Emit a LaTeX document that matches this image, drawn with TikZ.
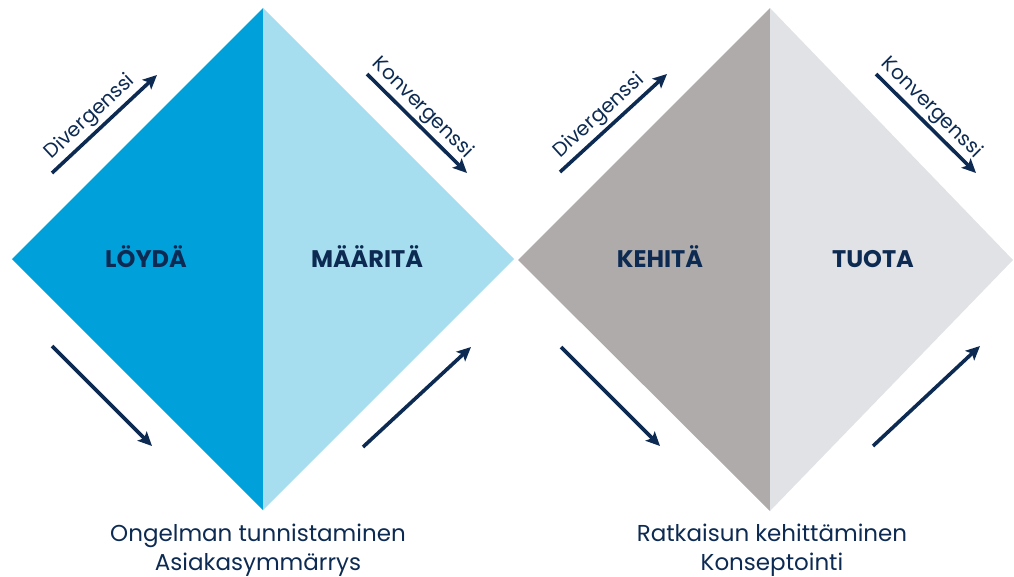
\documentclass[tikz,border=0pt]{standalone}
\usepackage{fontspec}
\setmainfont{Poppins}
\usetikzlibrary{arrows.meta}
\definecolor{navy}{HTML}{0D2B52}
\definecolor{blueA}{HTML}{00A1DB}
\definecolor{blueB}{HTML}{A6DEEF}
\definecolor{greyA}{HTML}{AEABAA}
\definecolor{greyB}{HTML}{E1E2E6}
\begin{document}
\begin{tikzpicture}[x=1pt,y=-1pt,
  flow/.style={draw=navy, line width=3.6pt, -{Stealth[length=14pt,width=13pt,inset=3pt]}},
  phase/.style={font=\fontsize{24}{28}\selectfont\bfseries, text=navy, anchor=base},
  tag/.style={font=\fontsize{20}{24}\selectfont, text=navy, sloped, above, inner sep=2.5pt},
  caption/.style={font=\fontsize{23}{29}\selectfont, text=navy, align=center, anchor=base}]
\useasboundingbox (0,0) rectangle (1014,576);

% first diamond: discover / define
\fill[blueA] (12,259) -- (263,8) -- (263,510) -- cycle;
\fill[blueB] (263,8) -- (514,259) -- (263,510) -- cycle;
% second diamond: develop / deliver
\fill[greyA] (518,260) -- (770,8) -- (770,511) -- cycle;
\fill[greyB] (770,8) -- (1013,260) -- (770,511) -- cycle;

% phase names
\node[phase] (loyda) at (146,267) {LÖYDÄ};
\node[phase] (maarita) at (367,267) {MÄÄRITÄ};
\node[phase] (kehita) at (660,267) {KEHITÄ};
\node[phase] (tuota) at (873,267) {TUOTA};

% arrow end points
\coordinate (d1s) at (52,173);  \coordinate (d1e) at (157,75);
\coordinate (k1s) at (367,74);  \coordinate (k1e) at (467,173);
\coordinate (b1s) at (52,346);  \coordinate (b1e) at (152,446);
\coordinate (c1s) at (363,447); \coordinate (c1e) at (471,347);
\coordinate (d2s) at (560,172); \coordinate (d2e) at (667,74);
\coordinate (k2s) at (876,74);  \coordinate (k2e) at (976,173);
\coordinate (b2s) at (561,347); \coordinate (b2e) at (660,446);
\coordinate (c2s) at (873,446); \coordinate (c2e) at (980,346);

% divergence / convergence arrows
\draw[flow] (d1s) -- node[tag, pos=0.46] {Divergenssi} (d1e);
\draw[flow] (k1s) -- node[tag, pos=0.45] {Konvergenssi} (k1e);
\draw[flow] (b1s) -- (b1e);
\draw[flow] (c1s) -- (c1e);
\draw[flow] (d2s) -- node[tag, pos=0.46] {Divergenssi} (d2e);
\draw[flow] (k2s) -- node[tag, pos=0.45] {Konvergenssi} (k2e);
\draw[flow] (b2s) -- (b2e);
\draw[flow] (c2s) -- (c2e);

% captions under the diamonds
\node[caption] (cap1) at (258,570) {Ongelman tunnistaminen\\Asiakasymmärrys};
\node[caption] (cap2) at (772,570) {Ratkaisun kehittäminen\\Konseptointi};
\end{tikzpicture}
\end{document}
